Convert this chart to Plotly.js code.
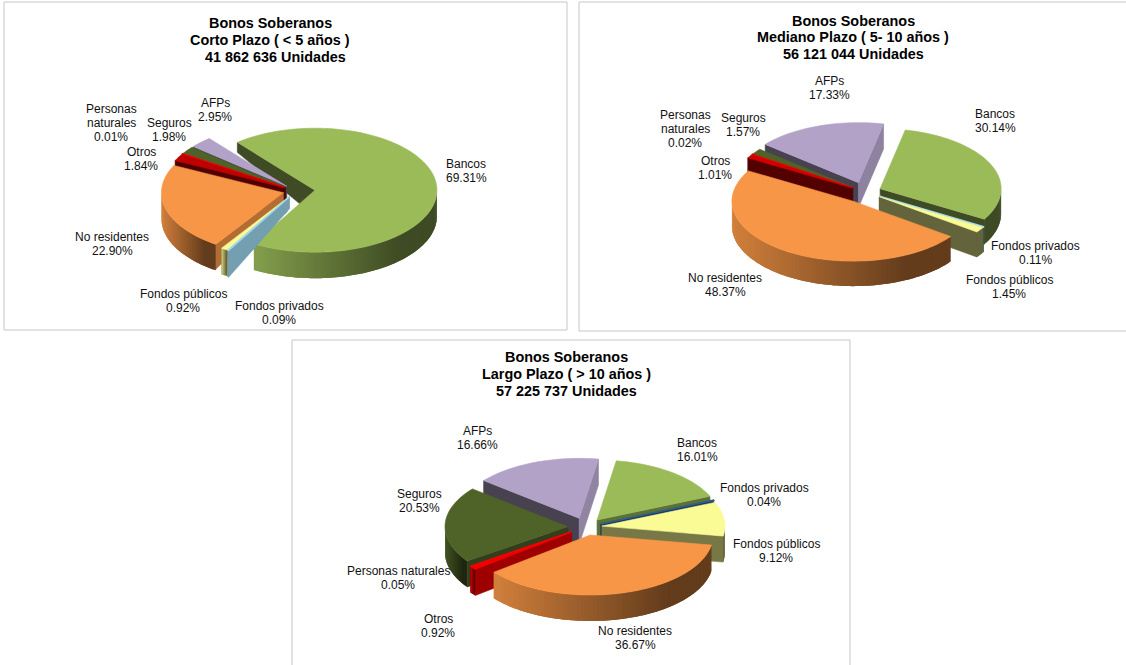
<!DOCTYPE html>
<html>
<head>
<meta charset="utf-8">
<script src="https://cdn.plot.ly/plotly-3.0.1.min.js"></script>
<style>html,body{margin:0;padding:0;background:#fff}#chart{width:1126px;height:665px}</style>
</head>
<body>
<div id="chart"></div>
<script>
// ---- data ----
const categories = ["Bancos","Fondos privados","Fondos públicos","No residentes","Otros","Personas naturales","Seguros","AFPs"];
const cortoValues   = [69.31,0.09,0.92,22.90,1.84,0.01,1.98,2.95];
const medianoValues = [30.14,0.11,1.45,48.37,1.01,0.02,1.57,17.33];
const largoValues   = [16.01,0.04,9.12,36.67,0.92,0.05,20.53,16.66];
const cortoTitle   = ["Bonos Soberanos","Corto Plazo ( &lt; 5 años )","41 862 636 Unidades"];
const medianoTitle = ["Bonos Soberanos","Mediano Plazo ( 5- 10 años )","56 121 044 Unidades"];
const largoTitle   = ["Bonos Soberanos","Largo Plazo ( &gt; 10 años )","57 225 737 Unidades"];

// ---- styling and layout ----
const baseColors = ["#9bbb59","#9dd8f0","#fbfb96","#f79646","#c00000","#ff0000","#4f6228","#b2a2c7"];
const panels = [
  {values:cortoValues, title:cortoTitle, cx:296, cy:191, rx:122, ry:62, depth:26, start:320.5,
   explode:[19,13,13,13,13,13,13,13], order:[0,7,6,5,4,3,2,1], otros:"#c00000", privados:"#9dd8f0",
   taper:{0:[26,10],1:[12,27],2:[12,27],3:[10,25]},
   frame:[4,2,567,330], titleX:[270,270,275], titleY:[23,40,57], personasBreak:true,
   labels:[[466,164],[279,306],[183,294],[112,237],[141,152],[111,109],[169,123],[215,103]]},
  {values:medianoValues, title:medianoTitle, cx:865, cy:192, rx:121, ry:60, depth:25, start:12,
   explode:[16.5,17,17,22,15,15,15,20], order:[7,6,5,4,0,1,2,3], otros:"#d00000", privados:"#9dd8f0",
   taper:{},
   frame:[579,2,1130,331], titleX:[853,853,853], titleY:[21,37,54], personasBreak:true,
   labels:[[995,114],[1035,246],[1009,280],[725,278],[715,161],[685,115],[743,118],[829,81]]},
  {values:largoValues, title:largoTitle, cx:586, cy:527, rx:123, ry:60, depth:26, start:9,
   explode:[18,16,16,17,18,18,18,19], order:[7,0,1,2,6,5,4,3], otros:"#f00000", privados:"#2f5f8f",
   taper:{},
   frame:[292,340,850,670], titleX:[566,566,566], titleY:[357,374,391], personasBreak:false,
   labels:[[697,443],[764,488],[776,544],[635,631],[438,619],[398,571],[419,494],[477,431]]}
];
const FONT = '"Liberation Sans", Arial, sans-serif';

function hexToRgb(h){return [1,3,5].map(i=>parseInt(h.substr(i,2),16));}
function shade(h,f){const c=hexToRgb(h);return "rgb("+c.map(v=>Math.round(v*f)).join(",")+")";}
function rad(d){return d*Math.PI/180;}

const traces=[], annotations=[], shapes=[];
function poly(xs,ys,color,name,w){
  traces.push({type:"scatter",mode:"lines",x:xs.concat(xs[0]),y:ys.concat(ys[0]),fill:"toself",
    fillcolor:color,line:{color:color,width:w===undefined?0.6:w,simplify:false},hoverinfo:"text",text:name,showlegend:false});
}
// brightness of a flat side wall, from the direction it faces
function wallShade(n){
  n=((n%360)+360)%360;
  if(n<=210) return 0.85-(n-90)/120*0.45;
  return 0.4;
}
function faces(n){n=((n%360)+360)%360;return n>90&&n<270;}

panels.forEach(p=>{
  const total=p.values.reduce((a,b)=>a+b,0);
  let a=p.start; const slices=[];
  p.values.forEach((v,i)=>{const span=v/total*360;slices.push({i,v,a0:a,a1:a+span});a+=span;});
  const k=p.ry/p.rx;
  p.order.forEach(idx=>{
    const s=slices[idx], mid=rad((s.a0+s.a1)/2);
    const ax=p.cx+p.explode[idx]*Math.sin(mid), ay=p.cy-p.explode[idx]*Math.cos(mid)*k;
    const color=idx===4?p.otros:idx===1?p.privados:baseColors[idx];
    const name=categories[idx]+" "+s.v.toFixed(2)+"%";
    const X=t=>ax+p.rx*Math.sin(rad(t)), Y=t=>ay-p.ry*Math.cos(rad(t));
    const tp=p.taper[idx]||[p.depth,p.depth];
    // flat cut walls
    [[s.a0,s.a0-90],[s.a1,s.a1+90]].forEach(([t,n])=>{
      if(!faces(n)) return;
      poly([ax,X(t),X(t),ax],[ay,Y(t),Y(t)+tp[1],ay+tp[0]],shade(color,wallShade(n)),name);
    });
    // curved outer wall, in overlapping strips for the horizontal gradient
    for(let m=-1;m<=2;m++){
      const t0=Math.max(s.a0,90+360*m), t1=Math.min(s.a1,270+360*m);
      if(t1<=t0) continue;
      const n=Math.max(1,Math.ceil((t1-t0)/1.5));
      const xsAll=[];for(let j=0;j<=n;j++)xsAll.push(X(t0+(t1-t0)*j/n));
      const xmin=Math.min(...xsAll),xmax=Math.max(...xsAll);
      for(let j=0;j<n;j++){
        const u0=t0+(t1-t0)*j/n,u1=t0+(t1-t0)*(j+1)/n,u2=Math.min(t1,u1+1.5);
        const tx=(xmax-xmin)>1?((X(u0)+X(u1))/2-xmin)/(xmax-xmin):0.3;
        const f=xmin>p.cx?0.4:0.85-0.45*Math.min(1,tx/0.8);
        const xs=[],ys=[];
        [u0,u1,u2].forEach(u=>{xs.push(X(u));ys.push(Y(u));});
        [u2,u1,u0].forEach(u=>{xs.push(X(u));ys.push(Y(u)+p.depth);});
        poly(xs,ys,shade(color,f),name,0);
      }
    }
    // top face
    const xs=[ax],ys=[ay],n=Math.max(2,Math.ceil((s.a1-s.a0)/2));
    for(let j=0;j<=n;j++){const t=s.a0+(s.a1-s.a0)*j/n;xs.push(X(t));ys.push(Y(t));}
    poly(xs,ys,color,name,(s.a1-s.a0)<0.5?1.5:0.6);
  });
  // frame
  shapes.push({type:"rect",xref:"x",yref:"y",x0:p.frame[0],y0:p.frame[1],x1:p.frame[2],y1:p.frame[3],
    line:{color:"#c6c6c6",width:1},fillcolor:"rgba(0,0,0,0)",layer:"below"});
  // title lines
  p.title.forEach((t,i)=>annotations.push({xref:"x",yref:"y",x:p.titleX[i],y:p.titleY[i],text:"<b>"+t+"</b>",
    showarrow:false,xanchor:"center",yanchor:"middle",font:{family:FONT,size:14.4,color:"#000"}}));
  // slice labels
  categories.forEach((c,i)=>{
    const lines=(i===5&&p.personasBreak?["Personas","naturales"]:[c]).concat(p.values[i].toFixed(2)+"%");
    lines.forEach((l,j)=>annotations.push({xref:"x",yref:"y",x:p.labels[i][0],y:p.labels[i][1]+j*14,text:l,
      showarrow:false,xanchor:"center",yanchor:"middle",font:{family:FONT,size:12,color:"#111"}}));
  });
});

const hidden={visible:false,fixedrange:true,showgrid:false,zeroline:false};
Plotly.newPlot("chart",traces,{
  width:1126,height:665,margin:{l:0,r:0,t:0,b:0},paper_bgcolor:"#fff",plot_bgcolor:"#fff",showlegend:false,
  xaxis:Object.assign({range:[0,1126]},hidden),
  yaxis:Object.assign({range:[665,0]},hidden),
  annotations,shapes,hovermode:"closest"
},{displayModeBar:false});
</script>
</body>
</html>
